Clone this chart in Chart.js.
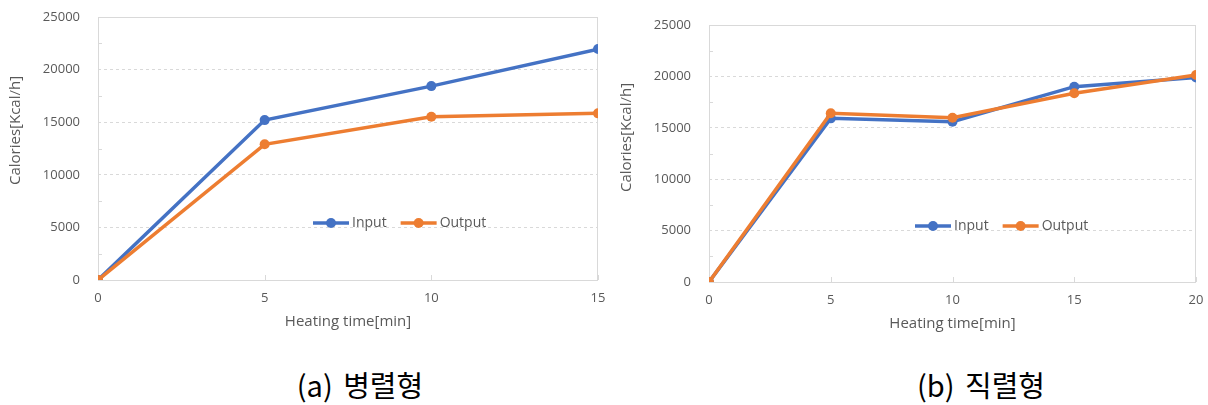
<!DOCTYPE html>
<html>
<head>
<meta charset="utf-8">
<script src="https://cdn.jsdelivr.net/npm/chart.js@4.4.1/dist/chart.umd.min.js"></script>
<style>
  body { margin: 0; background: #fff; }
  #wrap { position: relative; width: 1208px; height: 405px; }
  .box { position: absolute; top: 0; height: 340px; }
  #boxA { left: 0; width: 610px; }
  #boxB { left: 610px; width: 598px; }
  .caption {
    position: absolute; top: 363px; transform: translateX(-50%);
    font-family: "Noto Sans CJK KR", sans-serif; font-size: 29px; font-weight: 400; color: #000;
    white-space: nowrap; line-height: 42px; word-spacing: 4px;
  }
</style>
</head>
<body>
<div id="wrap">
  <div class="box" id="boxA"><canvas id="chartA"></canvas></div>
  <div class="box" id="boxB"><canvas id="chartB"></canvas></div>
  <div class="caption" style="left:360px">(a) 병렬형</div>
  <div class="caption" style="left:981px">(b) 직렬형</div>
</div>
<script>
// series
const seriesNames = ['Input', 'Output'];
const seriesColors = ['#4472C4', '#ED7D31'];

// (a) parallel
const timeA = [0, 5, 10, 15];
const inputA = [0, 15200, 18430, 21950];
const outputA = [0, 12900, 15520, 15840];

// (b) series
const timeB = [0, 5, 10, 15, 20];
const inputB = [0, 15920, 15600, 19000, 19900];
const outputB = [0, 16410, 15980, 18360, 20130];

const yTicks = [0, 5000, 10000, 15000, 20000, 25000];
const xTitle = 'Heating time[min]';
const yTitle = 'Calories[Kcal/h]';

const textColor = '#595959';
const lineGray = '#d9d9d9';
const fontFamily = '"Open Sans", "Noto Sans", sans-serif';

// frame, inside tick marks, legend and axis titles the way Excel draws them
const excelDecor = {
  id: 'excelDecor',
  beforeDatasetsDraw(chart, args, opts) {
    const { ctx, chartArea: a, scales } = chart;
    ctx.save();
    ctx.strokeStyle = lineGray;
    ctx.lineWidth = 1;
    ctx.strokeRect(a.left + 0.5, a.top + 0.5, a.right - a.left - 1, a.bottom - a.top);
    ctx.beginPath();
    for (let i = 0; i < yTicks.length - 1; i++) {
      const y = Math.round(scales.y.getPixelForValue((yTicks[i] + yTicks[i + 1]) / 2)) + 0.5;
      ctx.moveTo(a.left, y);
      ctx.lineTo(a.left + 4, y);
    }
    scales.x.ticks.forEach((t) => {
      const x = Math.round(scales.x.getPixelForValue(t.value)) + 0.5;
      ctx.moveTo(x, a.bottom);
      ctx.lineTo(x, a.bottom - 5);
    });
    ctx.stroke();
    ctx.restore();
  },
  afterDraw(chart, args, opts) {
    const { ctx, chartArea: a } = chart;
    ctx.save();
    ctx.font = '14px ' + fontFamily;
    ctx.fillStyle = textColor;
    ctx.textBaseline = 'middle';

    // legend
    let x = a.left + opts.legendX * (a.right - a.left);
    const y = a.top + opts.legendY * (a.bottom - a.top);
    seriesNames.forEach((name, i) => {
      ctx.strokeStyle = seriesColors[i];
      ctx.fillStyle = seriesColors[i];
      ctx.lineWidth = 3.5;
      ctx.beginPath();
      ctx.moveTo(x, y);
      ctx.lineTo(x + 36, y);
      ctx.stroke();
      ctx.beginPath();
      ctx.arc(x + 18, y, 5, 0, Math.PI * 2);
      ctx.fill();
      ctx.fillStyle = textColor;
      ctx.textAlign = 'left';
      ctx.fillText(name, x + 39, y);
      x += 39 + ctx.measureText(name).width + 14;
    });

    // axis titles
    ctx.font = '15px ' + fontFamily;
    ctx.textAlign = 'center';
    ctx.fillText(xTitle, (a.left + a.right) / 2, a.bottom + opts.xTitleOffset);
    ctx.translate(opts.yTitleX, (a.top + a.bottom) / 2 + opts.yTitleShift);
    ctx.rotate(-Math.PI / 2);
    ctx.fillText(yTitle, 0, 0);
    ctx.restore();
  }
};

function makeChart(id, times, inputs, outputs, lay) {
  const values = [inputs, outputs];
  return new Chart(document.getElementById(id), {
    type: 'line',
    data: {
      datasets: values.map((vals, i) => ({
        label: seriesNames[i],
        data: times.map((t, j) => ({ x: t, y: vals[j] })),
        borderColor: seriesColors[i],
        backgroundColor: seriesColors[i],
        borderWidth: 3.5,
        pointRadius: 5,
        pointBorderWidth: 0,
        tension: 0,
        order: seriesNames.length - i,
      })),
    },
    options: {
      responsive: true,
      maintainAspectRatio: false,
      animation: false,
      layout: { padding: { left: 0, top: lay.top, right: lay.right, bottom: 0 } },
      plugins: {
        legend: { display: false },
        tooltip: { enabled: false },
        excelDecor: lay,
      },
      scales: {
        x: {
          type: 'linear',
          min: times[0],
          max: times[times.length - 1],
          afterBuildTicks: (s) => { s.ticks = times.map((v) => ({ value: v })); },
          afterFit: (s) => {
            s.height = lay.xHeight;
            s.paddingLeft = 0;
            s.paddingRight = 0;
          },
          grid: { display: false, drawTicks: false },
          border: { display: false },
          ticks: {
            color: textColor, font: { family: fontFamily, size: 13 }, padding: 10, maxRotation: 0,
            callback: (v) => String(v),
          },
        },
        y: {
          min: yTicks[0],
          max: yTicks[yTicks.length - 1],
          afterBuildTicks: (s) => { s.ticks = yTicks.map((v) => ({ value: v })); },
          afterFit: (s) => {
            s.width = lay.yWidth;
            s.paddingTop = 0;
            s.paddingBottom = 0;
          },
          grid: { color: lineGray, drawTicks: false },
          border: { display: false, dash: [3, 3] },
          ticks: {
            color: textColor, font: { family: fontFamily, size: 13 }, padding: 18,
            callback: (v) => String(v),
          },
        },
      },
    },
    plugins: [excelDecor],
  });
}

makeChart('chartA', timeA, inputA, outputA, {
  top: 17, right: 12, yWidth: 98, xHeight: 60,
  legendX: 0.43, legendY: 0.783, xTitleOffset: 42, yTitleX: 16, yTitleShift: -18,
});
makeChart('chartB', timeB, inputB, outputB, {
  top: 25, right: 12, yWidth: 99, xHeight: 58,
  legendX: 0.423, legendY: 0.782, xTitleOffset: 42, yTitleX: 17, yTitleShift: -16,
});
</script>
</body>
</html>
